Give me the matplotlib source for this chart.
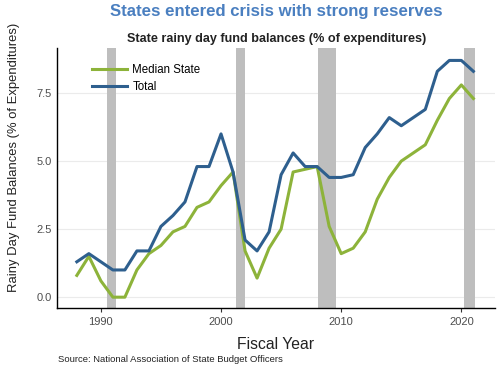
import numpy as np
import matplotlib
matplotlib.use('Agg')
import matplotlib.pyplot as plt

plt.rcParams['font.family'] = ['Liberation Sans', 'DejaVu Sans']

# Fiscal years
years = list(range(1988, 2022))

# Rainy day fund balances (% of expenditures)
median_state = [0.8, 1.5, 0.6, 0.0, 0.0, 1.0, 1.6, 1.9, 2.4, 2.6, 3.3, 3.5, 4.1, 4.6,
                1.7, 0.7, 1.8, 2.5, 4.6, 4.7, 4.8, 2.6, 1.6, 1.8, 2.4, 3.6, 4.4, 5.0,
                5.3, 5.6, 6.5, 7.3, 7.8, 7.3]
total = [1.3, 1.6, 1.3, 1.0, 1.0, 1.7, 1.7, 2.6, 3.0, 3.5, 4.8, 4.8, 6.0, 4.6,
         2.1, 1.7, 2.4, 4.5, 5.3, 4.8, 4.8, 4.4, 4.4, 4.5, 5.5, 6.0, 6.6, 6.3,
         6.6, 6.9, 8.3, 8.7, 8.7, 8.3]

# Recession periods (start, end)
recessions = [(1990.55, 1991.25), (2001.25, 2002.0), (2008.05, 2009.6), (2020.25, 2021.15)]

fig = plt.figure(figsize=(5, 3.65), dpi=100)
ax = fig.add_axes([0.114, 0.156, 0.876, 0.712])

for start, end in recessions:
    ax.axvspan(start, end, color='#bebebe', lw=0, zorder=1)

ax.plot(years, median_state, color='#8db33a', lw=2.2, label='Median State', zorder=3)
ax.plot(years, total, color='#2e5f8e', lw=2.2, label='Total', zorder=3)

ax.set_xlim(1986.35, 2022.8)
ax.set_ylim(-0.4, 9.15)
ax.set_xticks([1990, 2000, 2010, 2020])
ax.set_yticks([0, 2.5, 5.0, 7.5])
ax.set_yticklabels(['0.0', '2.5', '5.0', '7.5'])
ax.grid(axis='y', color='#ebebeb', lw=0.8, zorder=0)
ax.set_axisbelow(True)

for s in ['top', 'right']:
    ax.spines[s].set_visible(False)
for s in ['left', 'bottom']:
    ax.spines[s].set_color('black')
    ax.spines[s].set_linewidth(1.0)

ax.tick_params(axis='x', colors='#4d4d4d', labelsize=8, length=3, color='#333333')
ax.tick_params(axis='y', colors='#4d4d4d', labelsize=8, length=0, pad=4)

ax.set_xlabel('Fiscal Year', fontsize=11.3, color='#222222', labelpad=7)
ax.set_ylabel('Rainy Day Fund Balances (% of Expenditures)', fontsize=9.4, color='#222222')
ax.yaxis.set_label_coords(-0.085, 0.58)

ax.legend(loc='upper left', bbox_to_anchor=(0.08, 0.94), frameon=False, fontsize=8.3,
          handlelength=3.0, handletextpad=0.5, labelspacing=0.45, borderpad=0,
          borderaxespad=0)

fig.text(0.553, 0.968, 'States entered crisis with strong reserves', ha='center', va='center',
         fontsize=12.1, fontweight='bold', color='#4a7fc0')
fig.text(0.553, 0.893, 'State rainy day fund balances (% of expenditures)', ha='center',
         va='center', fontsize=9.1, fontweight='bold', color='#222222')
fig.text(0.116, 0.016, 'Source: National Association of State Budget Officers', fontsize=6.8,
         color='#222222', va='center')

fig.savefig('out.png', dpi=100)
